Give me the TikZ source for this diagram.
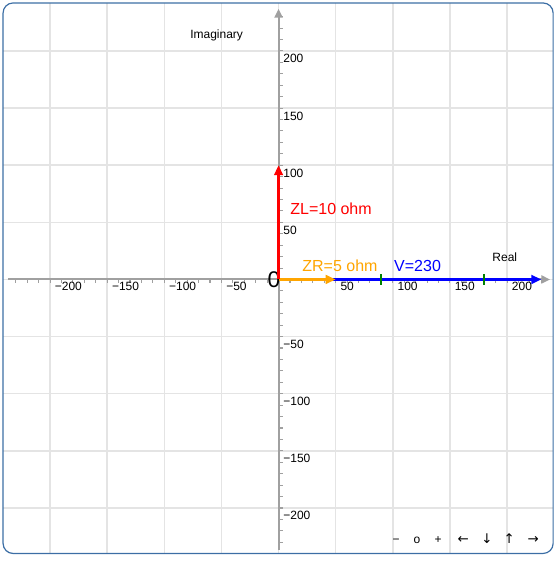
\documentclass[tikz,border=0pt]{standalone}
\usepackage{fontspec}
\setmainfont{Liberation Sans}
\newfontfamily\arrowfont{DejaVu Sans}
\usetikzlibrary{arrows.meta,positioning}
\definecolor{framec}{HTML}{3C6EA5}
\definecolor{gridc}{HTML}{E4E4E4}
\definecolor{axisc}{HTML}{A0A0A0}
\definecolor{zrc}{HTML}{FFA500}
\definecolor{markg}{HTML}{008000}

\begin{document}
\begin{tikzpicture}[
    x=0.857pt, y=0.857pt,
    gridline/.style={gridc, line width=1.1pt},
    axis/.style={axisc, line width=1.5pt, -{Triangle[length=6.5pt,width=6pt]}},
    minor/.style={axisc, line width=0.8pt},
    phasor/.style={line width=2.2pt, -{Triangle[length=7.5pt,width=6.5pt]}},
    ticklbl/.style={font=\fontsize{9}{10}\selectfont, inner sep=0pt, anchor=base west},
    vlabel/.style={font=\fontsize{12}{14}\selectfont, inner sep=0pt, anchor=base west},
    ctrl/.style={font=\fontsize{9}{10}\selectfont, inner sep=0pt, anchor=base}
]
\useasboundingbox (-243.8,-246.4) rectangle (245.5,244.6);

% Grid
\foreach \v in {-200,-150,...,200} {
    \draw[gridline] (\v,-239.8) -- (\v,242);
    \draw[gridline] (-241.1,\v) -- (240.3,\v);
}

% Frame
\draw[framec, line width=0.9pt, rounded corners=7.5pt] (-241.1,-239.8) rectangle (240.3,242);

% Axes
\coordinate (O) at (0,0);
\coordinate (xmin) at (-236.8,0);
\coordinate (xmax) at (237.6,0);
\coordinate (ymin) at (0,-236.8);
\coordinate (ymax) at (0,236.8);
\draw[axis] (xmin) -- (xmax);
\draw[axis] (ymin) -- (ymax);

% Minor ticks
\foreach \v in {-230,-220,...,-10,10,20,...,230} {
    \draw[minor] (\v,0) -- (\v,-3.5);
    \draw[minor] (0,\v) -- (3.5,\v);
}

% Tick labels
\foreach \v in {-200,-150,-100,-50} {
    \node[ticklbl] (x\v) at (\v+4,-10) {−\the\numexpr-\v\relax};
    \node[ticklbl] (y\v) at (4,\v-10.5) {−\the\numexpr-\v\relax};
}
\foreach \v in {50,100,150,200} {
    \node[ticklbl] (x\v) at (\v+4,-10) {\v};
    \node[ticklbl] (y\v) at (4,\v-10.5) {\v};
}

% Axis names
\node[ticklbl] (real) at (187,15.3) {Real};
\node[ticklbl] (imag) at (-77.5,210.5) {Imaginary};
\node[inner sep=0pt, anchor=base west, font=\fontsize{17}{18}\selectfont] (zero) at (-9.8,-6.6) {0};

% Phasors
\coordinate (Vtip) at (230,0);
\coordinate (ZRtip) at (50,0);
\coordinate (ZLtip) at (0,100);
\draw[phasor, blue] (O) -- (Vtip);
\draw[phasor, zrc] (O) -- (ZRtip);
\draw[phasor, red] (O) -- (ZLtip);

% Marks on V
\foreach \m in {90,180} {
    \draw[markg, line width=1.4pt] (\m,-4.5) -- (\m,4.5);
}

% Phasor labels
\node[vlabel, text=red] (zl) at (10.1,56.5) {ZL=10 ohm};
\node[vlabel, text=zrc] (zr) at (20.6,6.6) {ZR=5 ohm};
\node[vlabel, text=blue] (vv) at (101,6.6) {V=230};

% Controls
\node[ctrl] (zoomout) at (102.8,-230.8) {−};
\node[ctrl] (reset) at (121.2,-230.8) {o};
\node[ctrl] (zoomin) at (139.6,-230.8) {+};
\node[ctrl, font=\arrowfont\fontsize{10}{11}\selectfont] (left) at (161.5,-230.8) {←};
\node[ctrl, font=\arrowfont\fontsize{10}{11}\selectfont] (down) at (182.5,-230.8) {↓};
\node[ctrl, font=\arrowfont\fontsize{10}{11}\selectfont] (up) at (201.8,-230.8) {↑};
\node[ctrl, font=\arrowfont\fontsize{10}{11}\selectfont] (right) at (222.8,-230.8) {→};
\end{tikzpicture}
\end{document}
